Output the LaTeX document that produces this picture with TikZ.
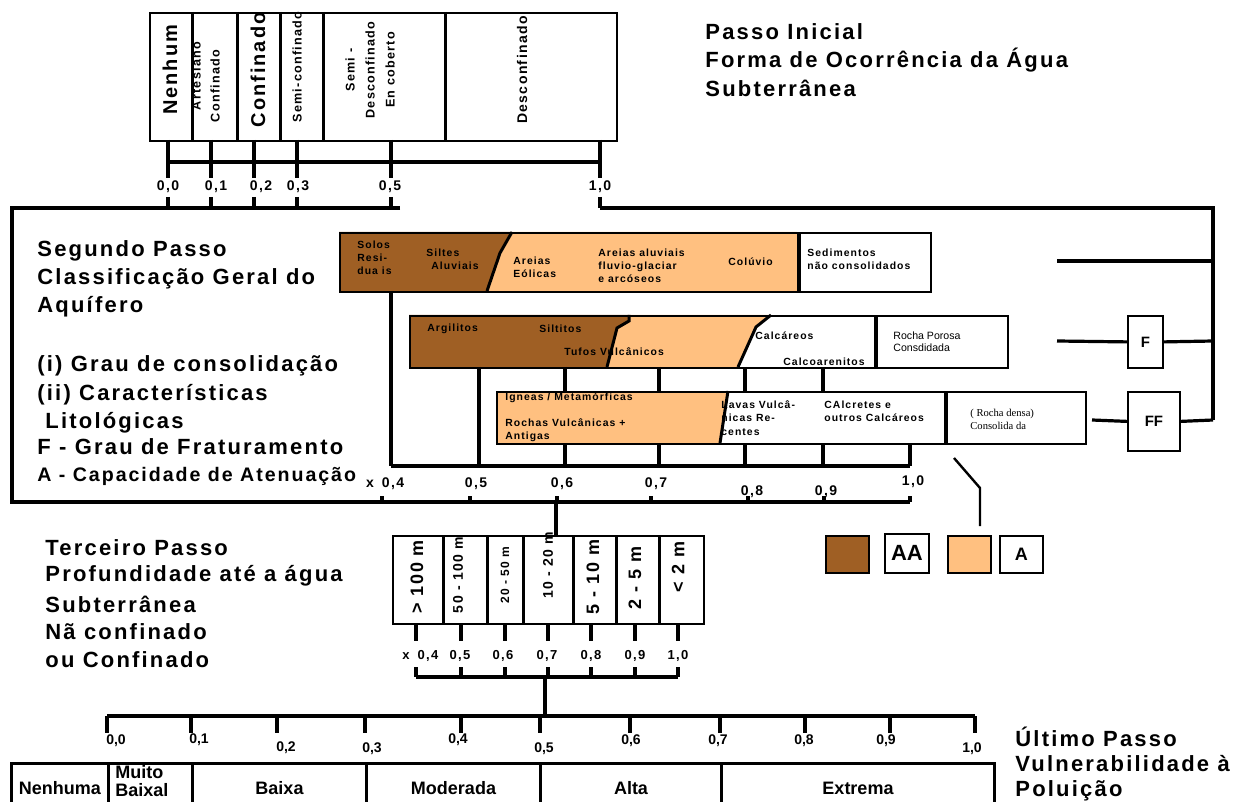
\documentclass[tikz,border=0pt]{standalone}
\usepackage{fontspec}
\setmainfont{Liberation Sans}
\newfontfamily\spacedsans{Liberation Sans}[LetterSpace=10]
\newfontfamily\timesrm{Liberation Serif}
\usetikzlibrary{positioning}
\definecolor{soilbrown}{HTML}{9F5F24}
\definecolor{sandorange}{HTML}{FFC080}
\tikzset{
  cellbox/.style={draw=black, line width=0.9pt, inner sep=0pt, anchor=north west},
  scaleline/.style={line width=1.6pt},
  celldiv/.style={line width=1.5pt},
  scalelab/.style={font=\spacedsans\bfseries\fontsize{7}{8}\selectfont, inner sep=0pt},
  steptext/.style={font=\spacedsans\bfseries\fontsize{11}{14}\selectfont, anchor=west, inner sep=0pt},
  rocktext/.style={font=\spacedsans\bfseries\fontsize{5.2}{6.6}\selectfont, anchor=west, align=left, inner sep=0pt},
  uptext/.style={rotate=90, inner sep=0pt, font=\spacedsans\bfseries\fontsize{6.3}{10}\selectfont},
  bigup/.style={rotate=90, inner sep=0pt, font=\spacedsans\bfseries\fontsize{10}{12}\selectfont},
  depthup/.style={rotate=90, inner sep=0pt, font=\spacedsans\bfseries\fontsize{9}{10}\selectfont},
  classtext/.style={font=\bfseries\fontsize{9}{9}\selectfont, align=center}
}
\begin{document}
\begin{tikzpicture}[x=0.5pt, y=-0.5pt]
\useasboundingbox (0,0) rectangle (1248,802);

% Passo inicial
\node[cellbox, minimum width=233.5pt, minimum height=64pt] (occ) at (149,12) {};
\foreach \xx in {192,237,280,323,445} \draw[celldiv] (\xx,12) -- (\xx,140);
\node[bigup] (nenhum) at (170,70) {Nenhum};
\node[uptext] (artes) at (196,76) {Artesiano};
\node[uptext] (confpeq) at (215,86) {Confinado};
\node[bigup] (conf) at (258,70) {Confinado};
\node[uptext] (semiconf) at (297,67) {Semi-confinado};
\node[uptext, align=center] (semides) at (370,70) {Semi -\\Desconfinado\\En coberto};
\node[uptext, font=\spacedsans\bfseries\fontsize{7}{8}\selectfont] (desconf) at (522,70) {Desconfinado};

\node[steptext] (inicial) at (705,32) {Passo Inicial};
\node[steptext] (forma) at (705,60) {Forma de Ocorrência da Água};
\node[steptext] (subt) at (705,88) {Subterrânea};

\draw[scaleline] (168,162) -- (600,162);
\foreach \xx/\lx/\lab in {168/168/{0,0},211/216/{0,1},254/261/{0,2},297/298/{0,3},391/390/{0,5},600/600/{1,0}} {
  \draw[scaleline] (\xx,140) -- (\xx,178);
  \draw[scaleline] (\xx,197) -- (\xx,208);
  \node[scalelab] at (\lx,187) {\lab};
}

% Segundo passo
\draw[scaleline] (400,208) -- (12,208) -- (12,502) -- (910,502);
\draw[scaleline] (600,208) -- (1213,208) -- (1213,420);

\node[steptext] (segundo) at (37,251) {Segundo Passo};
\node[steptext] (classif) at (37,279) {Classificação Geral do};
\node[steptext] (aquif) at (37,307) {Aquífero};
\node[steptext] (grau) at (37,366) {(i) Grau de consolidação};
\node[steptext] (carac) at (37,395) {(ii) Características};
\node[steptext] (lito) at (45,423) {Litológicas};
\node[steptext] (fratur) at (37,447) {F - Grau de Fraturamento};
\node[steptext, font=\spacedsans\bfseries\fontsize{9.8}{12}\selectfont] (atenu) at (37,476) {A - Capacidade de Atenuação};

% linha 1: sedimentos
\fill[soilbrown] (339,232) -- (512,232) -- (500,253) -- (487,291) -- (339,291) -- cycle;
\fill[sandorange] (512,232) -- (797,232) -- (797,291) -- (487,291) -- (500,253) -- cycle;
\draw[celldiv] (512,232) -- (500,253) -- (487,291);
\node[cellbox, minimum width=229pt, minimum height=29.5pt] (row1) at (339,232) {};
\node[cellbox, minimum width=65.5pt, minimum height=29.5pt] (sed) at (row1.north east) {};
\node[rocktext] at (357,258) {Solos\\Resi-\\dua is};
\node[rocktext] at (426,259) {Siltes\\\hspace{2.5pt}Aluviais};
\node[rocktext] at (513,267) {Areias\\Eólicas};
\node[rocktext] at (598,266) {Areias aluviais\\fluvio-glaciar\\e arcóseos};
\node[rocktext] at (728,262) {Colúvio};
\node[rocktext] at (807,259) {Sedimentos\\não consolidados};

% linha 2: rocha porosa
\fill[soilbrown] (409,315) -- (629,315) -- (629,321) -- (617,328) -- (607,367) -- (409,367) -- cycle;
\fill[sandorange] (629,315) -- (771,315) -- (756,327) -- (738,367) -- (607,367) -- (617,328) -- (629,321) -- cycle;
\draw[celldiv] (629,315) -- (629,321) -- (617,328) -- (607,367);
\draw[celldiv] (771,315) -- (756,327) -- (738,367);
\node[cellbox, minimum width=232.5pt, minimum height=26pt] (row2) at (409,315) {};
\node[cellbox, minimum width=65.5pt, minimum height=26pt] (porosa) at (row2.north east) {};
\node[rocktext] at (427,329) {Argilitos};
\node[rocktext] at (539,329) {Siltitos};
\node[rocktext] at (564,352) {Tufos Vulcânicos};
\node[rocktext] at (755,336) {Calcáreos};
\node[rocktext] at (783,362) {Calcoarenitos};
\node[rocktext, font=\fontsize{5.3}{6}\selectfont] at (893,342) {Rocha Porosa\\Consdidada};

% linha 3: rocha densa
\fill[sandorange] (496,391) -- (728,391) -- (720,443) -- (496,443) -- cycle;
\draw[celldiv] (728,391) -- (720,443);
\node[cellbox, minimum width=224pt, minimum height=26pt] (row3) at (496,391) {};
\node[cellbox, minimum width=69.5pt, minimum height=26pt] (densa) at (row3.north east) {};
\node[rocktext] at (505,398) {Igneas / Metamórficas};
\node[rocktext] at (505,430) {Rochas Vulcânicas +\\Antigas};
\node[rocktext] at (721,418) {Lavas Vulcâ-\\nicas Re-\\centes};
\node[rocktext] at (824,411) {CAlcretes e\\outros Calcáreos};
\node[rocktext, font=\timesrm\fontsize{5.3}{6.4}\selectfont] at (970,419) {( Rocha densa)\\Consolida da};

\draw[scaleline] (391,291) -- (391,466);
\draw[scaleline] (479,367) -- (479,466);
\foreach \xx in {565,659,745,823} {
  \draw[scaleline] (\xx,367) -- (\xx,391);
  \draw[scaleline] (\xx,443) -- (\xx,466);
}
\draw[scaleline] (910,443) -- (910,466);
\draw[scaleline] (391,466) -- (910,466);
\node[scalelab] at (370,484) {x};
\foreach \lx/\ly/\lab in {393/484/{0,4},476/484/{0,5},562/484/{0,6},656/484/{0,7},752/492/{0,8},826/492/{0,9},913/482/{1,0}}
  \node[scalelab] at (\lx,\ly) {\lab};
\foreach \xx in {382,470,557,651,748,824,910} \draw[scaleline] (\xx,496) -- (\xx,502);

% F e FF
\node[cellbox, minimum width=17.5pt, minimum height=26pt, font=\bfseries\fontsize{7.5}{8}\selectfont] (fbox) at (1127,315) {F};
\node[cellbox, minimum width=26pt, minimum height=29.5pt, font=\bfseries\fontsize{7.5}{8}\selectfont] (ffbox) at (1127,391) {FF};
\draw[scaleline] (1057,261) -- (1213,261);
\draw[scaleline] (1057,341) -- (fbox.west);
\draw[scaleline] (fbox.east) -- (1213,341);
\draw[scaleline] (1092,420) -- (ffbox.west);
\draw[scaleline] (ffbox.east) -- (1213,420);

% legenda
\draw[line width=1.2pt] (954,458) -- (980,488) -- (980,526);
\node[cellbox, fill=soilbrown, minimum width=21.5pt, minimum height=18.5pt] (lgbrown) at (825,535) {};
\node[cellbox, minimum width=22pt, minimum height=19.5pt, font=\bfseries\fontsize{11}{12}\selectfont] (lgAA) at (884,533) {AA};
\node[cellbox, fill=sandorange, minimum width=21.5pt, minimum height=18.5pt] (lgorange) at (947,535) {};
\node[cellbox, minimum width=21.5pt, minimum height=18.5pt, font=\bfseries\fontsize{9}{10}\selectfont] (lgA) at (999,535) {A};

% Terceiro passo
\draw[scaleline] (556,502) -- (556,535);
\node[cellbox, minimum width=155.5pt, minimum height=44pt] (depth) at (392,535) {};
\foreach \xx in {443,487,523,573,616,659} \draw[celldiv] (\xx,535) -- (\xx,623);
\node[depthup] (d100) at (417,577) {> 100 m};
\node[depthup, font=\spacedsans\bfseries\fontsize{7}{8}\selectfont] (d50) at (458,575) {50 - 100 m};
\node[depthup, font=\spacedsans\bfseries\fontsize{6}{7}\selectfont] (d20) at (505,575) {20 - 50 m};
\node[depthup, font=\spacedsans\bfseries\fontsize{7}{8}\selectfont] (d10) at (548,565) {10 - 20 m};
\node[depthup] (d5) at (593,577) {5 - 10 m};
\node[depthup] (d2) at (635,578) {2 - 5 m};
\node[depthup] (dlt2) at (678,567) {< 2 m};

\node[steptext] (terceiro) at (45,548) {Terceiro Passo};
\node[steptext] (profund) at (45,576) {Profundidade até a água};
\node[steptext] (subt3) at (45,604) {Subterrânea};
\node[steptext] (naconf) at (45,632) {Nã confinado};
\node[steptext] (ouconf) at (45,660) {ou Confinado};

\foreach \xx/\lx/\lab in {416/428/{0,4},461/460/{0,5},505/503/{0,6},548/547/{0,7},591/591/{0,8},635/635/{0,9},678/678/{1,0}} {
  \draw[scaleline] (\xx,623) -- (\xx,641);
  \draw[scaleline] (\xx,667) -- (\xx,677);
  \node[scalelab, font=\spacedsans\bfseries\fontsize{6.5}{7}\selectfont] at (\lx,656) {\lab};
}
\node[scalelab, font=\spacedsans\bfseries\fontsize{6.5}{7}\selectfont] at (406,656) {x};
\draw[scaleline] (416,677) -- (678,677);
\draw[scaleline] (545,677) -- (545,716);

% Ultimo passo
\draw[scaleline] (107,716) -- (975,716);
\foreach \xx in {107,191,277,365,461,540,630,720,805,890,975} \draw[scaleline] (\xx,716) -- (\xx,733);
\foreach \lx/\ly/\lab in {116/741/{0,0},199/740/{0,1},286/748/{0,2},372/749/{0,3},458/740/{0,4},544/749/{0,5},631/741/{0,6},718/741/{0,7},804/741/{0,8},886/741/{0,9},972/749/{1,0}}
  \node[scalelab, font=\bfseries\fontsize{7}{8}\selectfont] at (\lx,\ly) {\lab};

\foreach \xa/\xb/\nm/\lab in {10/107/nenhuma/Nenhuma,107/191/muitobaixa/{},191/365/baixa/Baixa,365/539/moderada/Moderada,539/720/alta/Alta,720/993/extrema/Extrema}
  \node[cellbox, celldiv, classtext, minimum width={(\xb-\xa)*0.5pt}, minimum height=25pt] (\nm) at (\xa,762) {\lab};
\node[classtext, inner sep=0pt, align=left, font=\bfseries\fontsize{9}{9}\selectfont, anchor=west] (muitotxt) at (115,781) {Muito\\Baixal};

\node[steptext] (ultimo) at (1015,737) {Último Passo};
\node[steptext] (vulner) at (1015,764) {Vulnerabilidade à};
\node[steptext] (polui) at (1015,791) {Poluição};
\end{tikzpicture}
\end{document}
